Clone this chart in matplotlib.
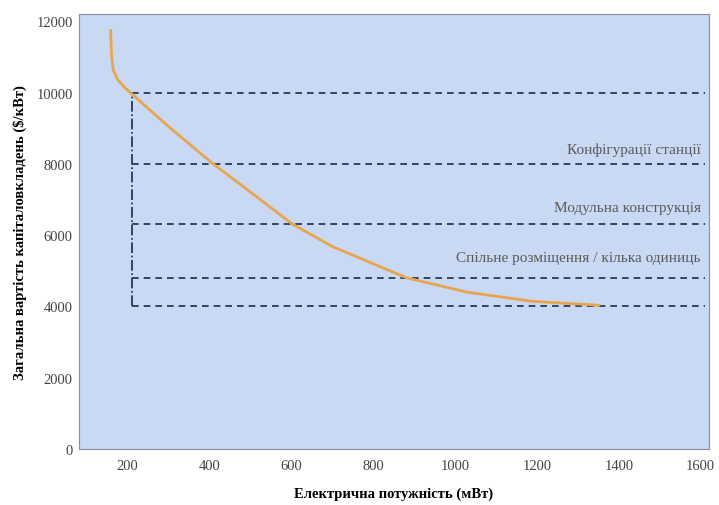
import matplotlib
matplotlib.use("Agg")
import matplotlib.pyplot as plt

plt.rcParams['font.family'] = ['Liberation Serif', 'DejaVu Serif']

# крива вартості
power = [159, 161, 165, 175, 190, 207, 297, 409, 499, 604, 702, 882, 1028, 1189, 1352]
cost = [11750, 11100, 10650, 10380, 10180, 10000, 9080, 8000, 7220, 6300, 5670, 4800, 4400, 4140, 4030]

# пунктирні рівні
levels = [10000, 8000, 6300, 4800, 4000]
level_start = 210
level_end = 1610

labels = ["Конфігурації станції", "Модульна конструкція", "Спільне розміщення / кілька одиниць"]
label_y = [8400, 6760, 5370]

xticks = [200, 400, 600, 800, 1000, 1200, 1400, 1600]
yticks = [0, 2000, 4000, 6000, 8000, 10000, 12000]

fig = plt.figure(figsize=(7.19, 5.06), dpi=100)
ax = fig.add_axes([0.110, 0.111, 0.876, 0.859])
ax.set_facecolor('#c9d9f3')

for lv in levels:
    ax.plot([level_start, level_end], [lv, lv], color='#1c2a4a', lw=1.2, dashes=(4, 3))
ax.plot([level_start, level_start], [levels[-1], levels[0]], color='#1c2a4a', lw=1.2, ls='-.')

ax.plot(power, cost, color='#e8a550', lw=2.0, solid_capstyle='round', solid_joinstyle='round')

for t, yy in zip(labels, label_y):
    ax.text(1600, yy, t, ha='right', va='center', fontsize=11, color='#5a5a5a')

ax.set_xlim(82, 1620)
ax.set_ylim(0, 12200)
ax.set_xticks(xticks)
ax.set_yticks(yticks)
ax.tick_params(length=0, labelsize=10.5, labelcolor='#444444')
ax.tick_params(axis='x', pad=7)
ax.tick_params(axis='y', pad=4.5)
for s in ax.spines.values():
    s.set_color('#8a8f99')

ax.set_xlabel("Електрична потужність (мВт)", fontsize=10.5, fontweight='bold', labelpad=11)
ax.set_ylabel("Загальна вартість капіталовкладень ($/кВт)", fontsize=10.5, fontweight='bold', labelpad=7)

fig.savefig("out.png", dpi=100)
